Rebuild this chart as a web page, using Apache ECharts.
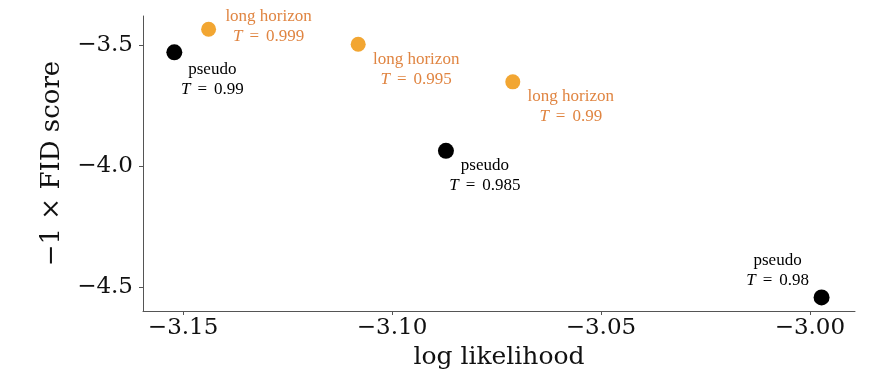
<!DOCTYPE html>
<html>
<head>
<meta charset="utf-8">
<script src="https://cdn.jsdelivr.net/npm/echarts@6/dist/echarts.min.js"></script>
<style>html,body{margin:0;padding:0;background:#fff}#c{width:894px;height:376px}</style>
</head>
<body>
<div id="c"></div>
<script>
// Data
const pseudoX = [-3.1521, -3.0871, -2.9972];
const pseudoY = [-3.531, -3.938, -4.544];
const pseudoT = ['0.99', '0.985', '0.98'];
const pseudoName = 'pseudo';
const longX = [-3.1439, -3.1081, -3.0711];
const longY = [-3.436, -3.498, -3.653];
const longT = ['0.999', '0.995', '0.99'];
const longName = 'long horizon';
const xTicks = [-3.15, -3.10, -3.05, -3.00];
const yTicks = [-4.5, -4.0, -3.5];

// label offsets (style)
const pseudoOffsets = [[38, 27], [39, 25], [-44, -27]];
const longOffsets = [[60, -3], [58, 25], [58, 25]];

const minus = s => s.replace('-', '\u2212');

function mkData(xs, ys, ts, name, offs, color) {
  const base = { fontFamily: 'Liberation Serif', fontSize: 17, color: color, lineHeight: 20 };
  return xs.map((x, i) => ({
    value: [x, ys[i]],
    label: {
      show: true,
      position: 'inside',
      offset: offs[i],
      formatter: name + '\n{i|T}{e|=}' + ts[i],
      color: color,
      fontFamily: 'Liberation Serif',
      fontSize: 17,
      lineHeight: 20,
      align: 'center',
      verticalAlign: 'middle',
      rich: {
        i: Object.assign({ fontStyle: 'italic' }, base),
        e: Object.assign({ padding: [0, 7, 0, 7] }, base)
      }
    }
  }));
}

const chart = echarts.init(document.getElementById('c'));
chart.setOption({
  animation: false,
  grid: { left: 143, right: 39, top: 16, bottom: 65, containLabel: false },
  xAxis: {
    type: 'value',
    min: -3.1596, max: -2.9892,
    name: 'log likelihood',
    nameLocation: 'middle',
    nameGap: 32,
    nameTextStyle: { fontFamily: 'DejaVu Serif', fontSize: 25, color: '#111', verticalAlign: 'top' },
    axisLine: { show: true, onZero: false, lineStyle: { color: '#555', width: 1 } },
    axisTick: { show: true, length: 4, lineStyle: { color: '#555' }, customValues: xTicks },
    axisLabel: {
      fontFamily: 'DejaVu Serif', fontSize: 23, color: '#111', margin: 6,
      customValues: xTicks,
      formatter: v => minus(v.toFixed(2))
    },
    splitLine: { show: false }
  },
  yAxis: {
    type: 'value',
    min: -4.600, max: -3.381,
    name: '\u22121 \u00d7 FID score',
    nameLocation: 'middle',
    nameGap: 78,
    nameRotate: 90,
    nameTextStyle: { fontFamily: 'DejaVu Serif', fontSize: 26, color: '#111' },
    axisLine: { show: true, onZero: false, lineStyle: { color: '#555', width: 1 } },
    axisTick: { show: true, length: 4, lineStyle: { color: '#555' }, customValues: yTicks },
    axisLabel: {
      fontFamily: 'DejaVu Serif', fontSize: 23, color: '#111', margin: 10,
      customValues: yTicks,
      formatter: v => minus(v.toFixed(1))
    },
    splitLine: { show: false }
  },
  series: [
    {
      type: 'scatter',
      symbolSize: 16,
      itemStyle: { color: '#000', opacity: 1 },
      data: mkData(pseudoX, pseudoY, pseudoT, pseudoName, pseudoOffsets, '#000'),
      z: 3
    },
    {
      type: 'scatter',
      symbolSize: 15,
      itemStyle: { color: '#F2A632', opacity: 1 },
      data: mkData(longX, longY, longT, longName, longOffsets, '#E08542'),
      z: 3
    }
  ]
});
</script>
</body>
</html>
